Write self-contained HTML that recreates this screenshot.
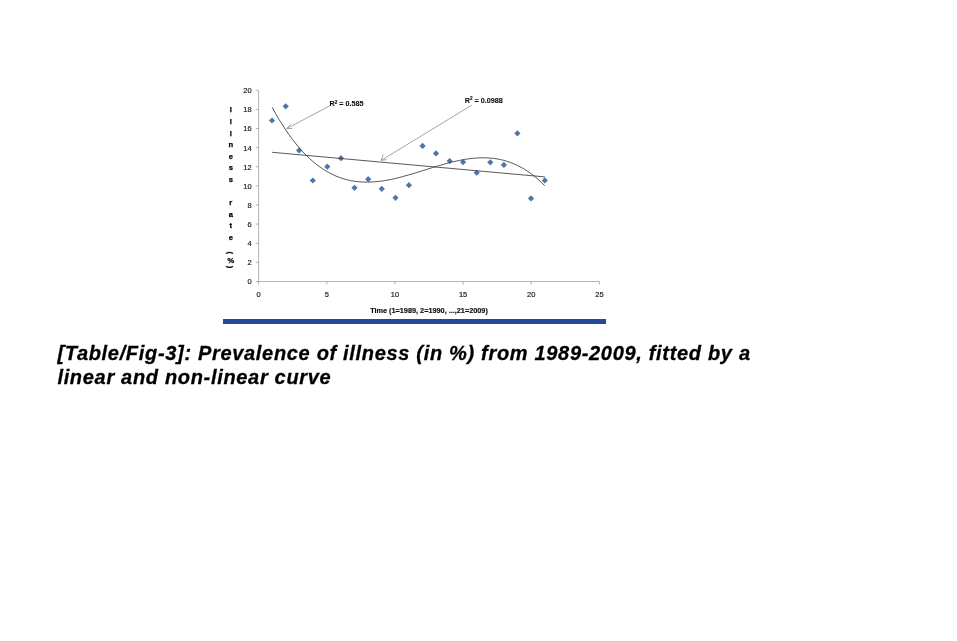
<!DOCTYPE html>
<html lang="en">
<head>
<meta charset="utf-8">
<title>Table/Fig-3</title>
<style>
html,body{margin:0;padding:0;background:#fff;}
body{width:957px;height:641px;position:relative;overflow:hidden;font-family:"Liberation Sans",Arial,sans-serif;}
.chart{position:absolute;left:0;top:0;display:block;}
.chart text{font-family:"Liberation Sans",Arial,sans-serif;fill:#111;}
.tk text{font-size:7.5px;fill:#1a1a1a;stroke:#1a1a1a;stroke-width:0.18px;}
.yt text{font-size:7.6px;font-weight:bold;fill:#000;stroke:#000;stroke-width:0.25px;}
.xt{font-size:7.3px;font-weight:bold;fill:#000;stroke:#000;stroke-width:0.15px;}
.r2{font-size:7.2px;font-weight:bold;fill:#000;stroke:#000;stroke-width:0.1px;}
.bar{position:absolute;left:223px;top:319px;width:383px;height:5px;background:#244a96;}
.cap{position:absolute;left:57px;top:342px;transform:translate(0.4px,-0.6px);width:760px;margin:0;font-size:20px;line-height:24px;letter-spacing:0.68px;white-space:nowrap;-webkit-text-stroke:0.3px #000;font-weight:bold;font-style:italic;color:#000;}
</style>
</head>
<body>
<svg class="chart" width="957" height="335" viewBox="0 0 957 335">
<g filter="url(#bl)">
<g stroke="#949494" stroke-width="0.7" fill="none" shape-rendering="auto">
<path d="M258.6 90.3V281.5H599.4"/>
<path d="M255.8 281.5H258.6"/>
<path d="M255.8 262.4H258.6"/>
<path d="M255.8 243.3H258.6"/>
<path d="M255.8 224.1H258.6"/>
<path d="M255.8 205.0H258.6"/>
<path d="M255.8 185.9H258.6"/>
<path d="M255.8 166.8H258.6"/>
<path d="M255.8 147.7H258.6"/>
<path d="M255.8 128.5H258.6"/>
<path d="M255.8 109.4H258.6"/>
<path d="M255.8 90.3H258.6"/>
<path d="M258.6 281.5V284.5"/>
<path d="M326.8 281.5V284.5"/>
<path d="M394.9 281.5V284.5"/>
<path d="M463.1 281.5V284.5"/>
<path d="M531.2 281.5V284.5"/>
<path d="M599.4 281.5V284.5"/>
</g>
<g class="tk">
<text x="251.6" y="284.3" text-anchor="end">0</text>
<text x="251.6" y="265.2" text-anchor="end">2</text>
<text x="251.6" y="246.1" text-anchor="end">4</text>
<text x="251.6" y="226.9" text-anchor="end">6</text>
<text x="251.6" y="207.8" text-anchor="end">8</text>
<text x="251.6" y="188.7" text-anchor="end">10</text>
<text x="251.6" y="169.6" text-anchor="end">12</text>
<text x="251.6" y="150.5" text-anchor="end">14</text>
<text x="251.6" y="131.3" text-anchor="end">16</text>
<text x="251.6" y="112.2" text-anchor="end">18</text>
<text x="251.6" y="93.1" text-anchor="end">20</text>
<text x="258.6" y="297.1" text-anchor="middle">0</text>
<text x="326.8" y="297.1" text-anchor="middle">5</text>
<text x="394.9" y="297.1" text-anchor="middle">10</text>
<text x="463.1" y="297.1" text-anchor="middle">15</text>
<text x="531.2" y="297.1" text-anchor="middle">20</text>
<text x="599.4" y="297.1" text-anchor="middle">25</text>
</g>
<g class="yt" text-anchor="middle">
<text x="230.80 230.80 230.80 230.80 230.80 230.80 230.80 230.80 230.80 230.80 230.80 230.80 230.80 229.47 230.80 229.47" y="112.30 123.90 135.50 147.10 158.70 170.30 181.90 193.50 205.10 216.70 228.30 239.90 251.50 251.43 263.00 265.83" rotate="0 0 0 0 0 0 0 0 0 0 0 0 0 90 0 90">Illness rate (%)</text>
</g>
<text class="xt" x="429" y="313.4" text-anchor="middle">Time (1=1989, 2=1990, ...,21=2009)</text>
<g fill="#5075ac">
<path d="M272.0 117.4L275.1 120.5L272.0 123.6L268.9 120.5Z"/>
<path d="M285.7 103.2L288.8 106.3L285.7 109.4L282.6 106.3Z"/>
<path d="M299.1 147.3L302.2 150.4L299.1 153.5L296.0 150.4Z"/>
<path d="M312.8 177.4L315.9 180.5L312.8 183.6L309.7 180.5Z"/>
<path d="M327.3 163.6L330.4 166.7L327.3 169.8L324.2 166.7Z"/>
<path d="M341.0 155.1L344.1 158.2L341.0 161.3L337.9 158.2Z"/>
<path d="M354.5 184.7L357.6 187.8L354.5 190.9L351.4 187.8Z"/>
<path d="M368.2 176.1L371.3 179.2L368.2 182.3L365.1 179.2Z"/>
<path d="M381.8 185.7L384.9 188.8L381.8 191.9L378.7 188.8Z"/>
<path d="M395.5 194.7L398.6 197.8L395.5 200.9L392.4 197.8Z"/>
<path d="M408.9 182.1L412.0 185.2L408.9 188.3L405.8 185.2Z"/>
<path d="M422.6 142.8L425.7 145.9L422.6 149.0L419.5 145.9Z"/>
<path d="M436.0 150.3L439.1 153.4L436.0 156.5L432.9 153.4Z"/>
<path d="M449.7 157.9L452.8 161.0L449.7 164.1L446.6 161.0Z"/>
<path d="M463.1 159.0L466.2 162.1L463.1 165.2L460.0 162.1Z"/>
<path d="M476.7 169.7L479.8 172.8L476.7 175.8L473.6 172.8Z"/>
<path d="M490.3 159.2L493.4 162.3L490.3 165.4L487.2 162.3Z"/>
<path d="M503.9 161.8L507.0 164.9L503.9 168.0L500.8 164.9Z"/>
<path d="M517.4 130.2L520.5 133.3L517.4 136.4L514.3 133.3Z"/>
<path d="M531.0 195.3L534.1 198.4L531.0 201.5L527.9 198.4Z"/>
<path d="M544.8 177.3L547.9 180.4L544.8 183.5L541.7 180.4Z"/>
</g>
<polyline points="272.2,152.3 544.8,176.9" fill="none" stroke="#3a3a3a" stroke-width="0.85"/>
<polyline points="272.2,107.4 275.6,113.6 279.0,119.4 282.5,124.9 285.9,130.1 289.3,135.1 292.7,139.7 296.1,144.0 299.5,148.1 302.9,151.9 306.3,155.4 309.7,158.7 313.1,161.7 316.5,164.5 319.9,167.0 323.3,169.3 326.8,171.4 330.2,173.3 333.6,175.0 337.0,176.5 340.4,177.7 343.8,178.9 347.2,179.8 350.6,180.6 354.0,181.2 357.4,181.6 360.8,181.9 364.2,182.1 367.6,182.1 371.0,182.0 374.5,181.8 377.9,181.5 381.3,181.1 384.7,180.6 388.1,180.0 391.5,179.3 394.9,178.6 398.3,177.7 401.7,176.9 405.1,175.9 408.5,175.0 411.9,174.0 415.3,172.9 418.8,171.9 422.2,170.8 425.6,169.8 429.0,168.7 432.4,167.6 435.8,166.6 439.2,165.6 442.6,164.6 446.0,163.6 449.4,162.7 452.8,161.9 456.2,161.1 459.6,160.4 463.1,159.7 466.5,159.1 469.9,158.7 473.3,158.3 476.7,158.0 480.1,157.8 483.5,157.8 486.9,157.9 490.3,158.1 493.7,158.4 497.1,158.9 500.5,159.6 503.9,160.4 507.3,161.4 510.8,162.6 514.2,164.0 517.6,165.5 521.0,167.3 524.4,169.2 527.8,171.4 531.2,173.8 534.6,176.4 538.0,179.3 541.4,182.4 544.8,185.8" fill="none" stroke="#3a3a3a" stroke-width="0.85"/>
<g stroke="#9a9a9a" stroke-width="0.9" fill="none">
<path d="M329.8 105.8L286.8 128.6M290.6 124.2L286.8 128.6L292.4 128.4"/>
<path d="M471.6 105.2L381.2 160.4M383.2 154.6L381.2 160.4L386.6 159.6"/>
</g>
<text class="r2" x="329.6" y="106">R<tspan dy="-2.4" font-size="4.6">2</tspan><tspan dy="2.4"> = 0.585</tspan></text>
<text class="r2" x="464.8" y="102.8">R<tspan dy="-2.4" font-size="4.6">2</tspan><tspan dy="2.4"> = 0.0988</tspan></text>
</g>
<defs><filter id="bl" x="0" y="0" width="957" height="335" filterUnits="userSpaceOnUse"><feGaussianBlur stdDeviation="0.35"/></filter></defs>
</svg>
<div class="bar"></div>
<p class="cap">[Table/Fig-3]: Prevalence of illness (in %) from 1989-2009, fitted by a<br>linear and non-linear curve</p>
</body>
</html>
